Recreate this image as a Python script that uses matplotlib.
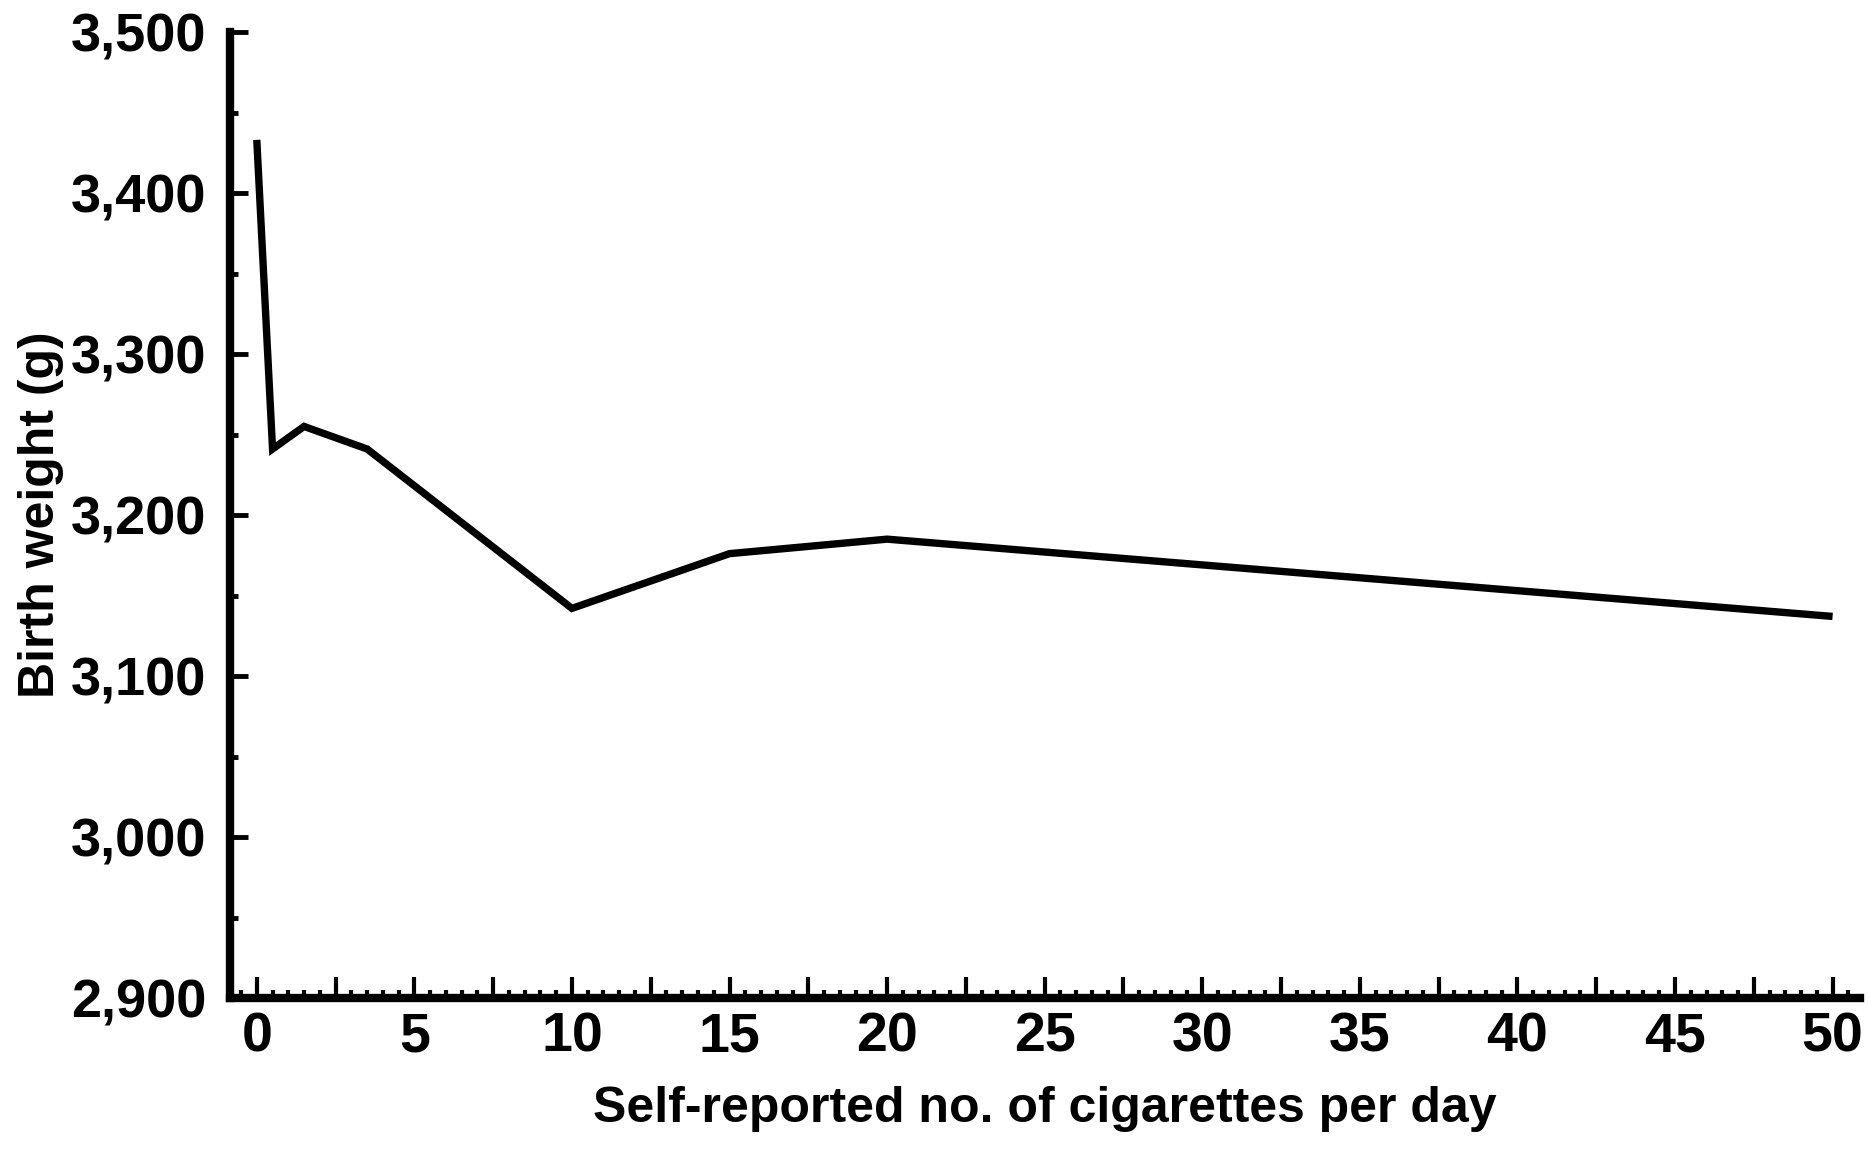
import matplotlib
matplotlib.use("Agg")
import matplotlib.pyplot as plt
from matplotlib.ticker import MultipleLocator, FuncFormatter

plt.rcParams['font.family'] = ['Liberation Sans Narrow', 'Liberation Sans', 'DejaVu Sans']
plt.rcParams['font.weight'] = 'bold'

# Data
cigarettes = [0, 0.5, 1.5, 3.5, 10, 15, 20, 50]
birth_weight = [3433, 3241, 3255, 3241, 3142, 3176, 3185, 3137]

x_label = "Self-reported no. of cigarettes per day"
y_label = "Birth weight (g)"

fig = plt.figure(figsize=(18.69, 11.66), dpi=100)
ax = fig.add_axes([230/1869, 1 - 998/1166, (1860-230)/1869, (998-32)/1166])

ax.plot(cigarettes, birth_weight, color='black', linewidth=5.3,
        solid_joinstyle='miter', solid_capstyle='butt')

ax.set_xlim(-0.85, 50.87)
ax.set_ylim(2900, 3500)

for s in ['top', 'right']:
    ax.spines[s].set_visible(False)
for s in ['left', 'bottom']:
    ax.spines[s].set_linewidth(6)
    ax.spines[s].set_capstyle('projecting')

ax.xaxis.set_major_locator(MultipleLocator(2.5))
ax.xaxis.set_minor_locator(MultipleLocator(0.5))
ax.xaxis.set_major_formatter(FuncFormatter(
    lambda v, p: f"{int(round(v))}" if abs(v / 5 - round(v / 5)) < 1e-6 else ""))
ax.yaxis.set_major_locator(MultipleLocator(100))
ax.yaxis.set_minor_locator(MultipleLocator(50))
ax.yaxis.set_major_formatter(FuncFormatter(lambda v, p: f"{int(v):,}"))

ax.tick_params(axis='x', which='major', direction='in', length=15, width=3,
               pad=10, labelsize=40)
ax.tick_params(axis='x', which='minor', direction='in', length=6, width=3)
ax.tick_params(axis='y', which='major', direction='in', length=13, width=3.5,
               pad=17, labelsize=39)
ax.tick_params(axis='y', which='minor', direction='in', length=6, width=3.5)

for lbl in ax.get_xticklabels() + ax.get_yticklabels():
    lbl.set_fontweight('bold')

ax.set_xlabel(x_label, fontsize=36, fontweight='bold', labelpad=16)
ax.set_ylabel(y_label, fontsize=36, fontweight='bold', labelpad=5)

fig.savefig("out.png", dpi=100)
